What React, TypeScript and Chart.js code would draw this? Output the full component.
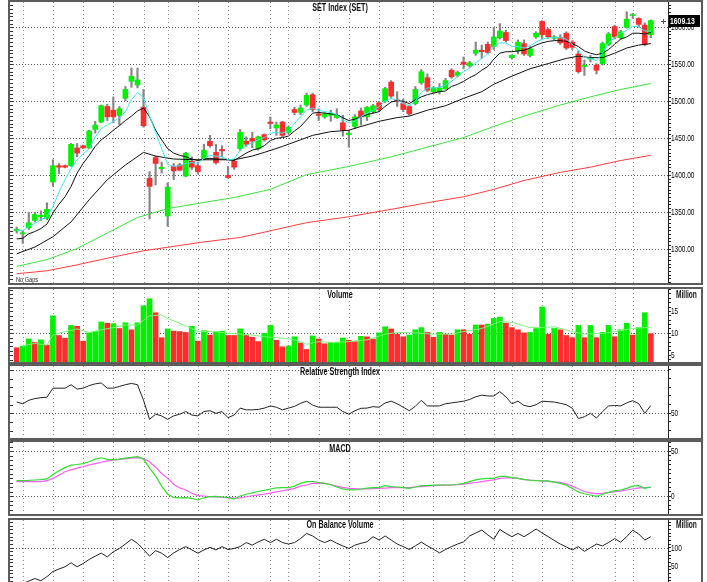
import { useEffect, useRef } from "react";
import { Chart, registerables } from "chart.js";
Chart.register(...registerables);

const FONT = '"Liberation Sans",Arial,sans-serif';

// ---------- price (OHLC) ----------
const openP = [
  1325, 1321, 1329, 1339, 1344, 1342, 1391, 1413, 1413, 1413,
  1437, 1440, 1437, 1462, 1472, 1493, 1488, 1481, 1504, 1527,
  1522, 1492, 1396, 1424, 1409, 1345, 1412, 1414, 1399, 1419,
  1413, 1422, 1446, 1431, 1435, 1400, 1419, 1436, 1446, 1450,
  1436, 1455, 1472, 1464, 1472, 1458, 1489, 1485, 1495, 1509,
  1483, 1479, 1481, 1478, 1471, 1455, 1466, 1487, 1479, 1486,
  1498, 1500, 1526, 1502, 1497, 1493, 1497, 1525, 1532, 1513,
  1513, 1517, 1542, 1535, 1553, 1548, 1565, 1569, 1577, 1574,
  1586, 1593, 1559, 1568, 1578, 1562, 1587, 1608, 1597, 1585,
  1586, 1592, 1580, 1564, 1547, 1557, 1549, 1551, 1577, 1601,
  1586, 1600, 1616, 1612, 1603, 1590,
];
const highP = [
  1330, 1325, 1350, 1350, 1352, 1363, 1421, 1416, 1414, 1443,
  1443, 1441, 1461, 1473, 1495, 1496, 1506, 1493, 1520, 1545,
  1545, 1516, 1405, 1426, 1418, 1390, 1416, 1416, 1431, 1425,
  1418, 1442, 1454, 1442, 1440, 1412, 1421, 1462, 1452, 1458,
  1453, 1456, 1479, 1472, 1473, 1467, 1492, 1495, 1511, 1511,
  1490, 1485, 1488, 1490, 1481, 1461, 1482, 1491, 1493, 1496,
  1500, 1519, 1528, 1513, 1503, 1495, 1520, 1543, 1537, 1520,
  1524, 1531, 1544, 1541, 1560, 1554, 1580, 1576, 1580, 1600,
  1605, 1596, 1563, 1583, 1583, 1574, 1594, 1609, 1599, 1589,
  1590, 1594, 1582, 1568, 1556, 1562, 1551, 1580, 1593, 1603,
  1596, 1621, 1619, 1613, 1606, 1610,
];
const lowP = [
  1322, 1308, 1327, 1337, 1339, 1340, 1385, 1402, 1410, 1412,
  1425, 1436, 1436, 1457, 1471, 1474, 1471, 1468, 1501, 1519,
  1518, 1465, 1341, 1387, 1403, 1331, 1394, 1406, 1398, 1408,
  1402, 1421, 1438, 1415, 1425, 1396, 1408, 1433, 1439, 1437,
  1434, 1446, 1463, 1454, 1452, 1456, 1482, 1482, 1493, 1486,
  1474, 1477, 1473, 1477, 1453, 1438, 1463, 1468, 1474, 1484,
  1486, 1498, 1505, 1493, 1486, 1481, 1495, 1523, 1513, 1511,
  1510, 1516, 1531, 1533, 1544, 1546, 1562, 1558, 1564, 1570,
  1584, 1580, 1557, 1564, 1562, 1560, 1585, 1584, 1585, 1583,
  1577, 1570, 1570, 1538, 1535, 1553, 1537, 1549, 1575, 1585,
  1584, 1599, 1612, 1600, 1575, 1586,
];
const closeP = [
  1327, 1322, 1336, 1347, 1346, 1354, 1413, 1411, 1411, 1442,
  1430, 1437, 1460, 1468, 1494, 1479, 1479, 1490, 1516, 1534,
  1529, 1467, 1385, 1416, 1411, 1384, 1406, 1407, 1430, 1411,
  1405, 1434, 1440, 1417, 1433, 1397, 1411, 1458, 1442, 1446,
  1452, 1448, 1470, 1468, 1454, 1465, 1485, 1491, 1508, 1489,
  1481, 1483, 1484, 1481, 1461, 1457, 1479, 1479, 1492, 1494,
  1489, 1517, 1507, 1500, 1489, 1483, 1516, 1540, 1515, 1518,
  1518, 1528, 1533, 1539, 1550, 1552, 1569, 1567, 1566, 1587,
  1595, 1582, 1562, 1580, 1564, 1571, 1592, 1590, 1587, 1587,
  1579, 1572, 1573, 1540, 1549, 1559, 1542, 1578, 1591, 1587,
  1594, 1611, 1617, 1604, 1577, 1609.13,
];

// ---------- moving averages on price ----------
const maCyan = [
  1326, 1325, 1331, 1335, 1340, 1344, 1358, 1377, 1394, 1409,
  1421, 1429, 1436, 1452, 1463, 1468, 1473, 1477, 1486, 1502,
  1512, 1505, 1480, 1458, 1436, 1415, 1412, 1413, 1416, 1417,
  1416, 1423, 1427, 1426, 1425, 1421, 1422, 1434, 1440, 1444,
  1448, 1451, 1457, 1458, 1457, 1460, 1470, 1479, 1488, 1491,
  1488, 1486, 1485, 1482, 1475, 1471, 1473, 1479, 1484, 1488,
  1493, 1500, 1504, 1502, 1497, 1494, 1500, 1512, 1518, 1518,
  1519, 1522, 1527, 1534, 1540, 1545, 1552, 1558, 1564, 1574,
  1579, 1579, 1574, 1574, 1572, 1575, 1580, 1584, 1586, 1586,
  1586, 1584, 1577, 1569, 1559, 1558, 1555, 1565, 1579, 1586,
  1592, 1596, 1601, 1601, 1595, 1595,
];
const maBlack1 = [
  1314, 1315, 1321, 1324, 1328, 1334, 1349, 1361, 1371, 1385,
  1403, 1416, 1427, 1439, 1448, 1454, 1461, 1467, 1474, 1480,
  1487, 1491, 1479, 1461, 1448, 1436, 1430, 1427, 1425, 1422,
  1420, 1422, 1423, 1422, 1422, 1421, 1420, 1425, 1430, 1434,
  1436, 1440, 1447, 1450, 1451, 1453, 1460, 1466, 1475, 1484,
  1485, 1484, 1483, 1482, 1478, 1474, 1476, 1479, 1482, 1484,
  1486, 1493, 1499, 1501, 1500, 1497, 1502, 1506, 1509, 1511,
  1513, 1514, 1520, 1523, 1527, 1532, 1536, 1542, 1547, 1557,
  1565, 1567, 1567, 1568, 1569, 1572, 1576, 1579, 1581, 1582,
  1582, 1581, 1578, 1574, 1568, 1565, 1563, 1565, 1570, 1577,
  1584, 1587, 1592, 1592, 1591, 1593,
];
// [day index, value]
const maBlack2: [number, number][] = [
  [0, 1294], [3, 1303], [6, 1317], [9, 1337], [12, 1367], [15, 1394], [18, 1414],
  [21, 1431], [23, 1426], [26, 1422], [30, 1421], [36, 1421], [39, 1426], [41, 1431],
  [44, 1439], [47, 1448], [49, 1454], [52, 1459], [55, 1461], [57, 1466], [60, 1473],
  [63, 1478], [65, 1480], [68, 1488], [71, 1494], [74, 1504], [77, 1513], [79, 1523],
  [82, 1534], [85, 1544], [88, 1551], [91, 1558], [93, 1561], [95, 1559], [97, 1559],
  [99, 1565], [101, 1572], [103, 1576], [105, 1578],
];
const maGreen: [number, number][] = [
  [0, 1277], [5, 1286], [10, 1301], [15, 1322], [20, 1343], [25, 1355], [30, 1362],
  [36, 1370], [42, 1381], [48, 1401], [55, 1412], [62, 1425], [68, 1438], [74, 1451],
  [79, 1466], [84, 1480], [90, 1495], [95, 1506], [100, 1516], [105, 1524],
];
const maRed: [number, number][] = [
  [0, 1267], [5, 1271], [10, 1279], [15, 1288], [21, 1298], [26, 1304], [31, 1310],
  [37, 1316], [42, 1325], [48, 1336], [55, 1344], [62, 1354], [68, 1363], [74, 1371],
  [79, 1381], [84, 1393], [90, 1404], [95, 1411], [100, 1420], [105, 1427],
];

// ---------- volume (millions) ----------
const volume = [
  6.7, 7.0, 8.7, 7.9, 8.5, 7.3, 14.0, 9.5, 8.9, 11.8,
  11.6, 8.2, 10.1, 10.4, 12.6, 12.3, 12.2, 11.1, 12.4, 10.8,
  12.4, 16.3, 17.9, 14.7, 9.0, 11.0, 10.5, 10.4, 10.2, 11.6,
  8.2, 10.6, 9.6, 10.4, 10.5, 9.5, 9.5, 11.0, 9.5, 9.1,
  8.1, 10.0, 11.8, 8.4, 6.9, 7.1, 9.2, 7.8, 6.3, 9.4,
  8.7, 7.6, 7.9, 7.9, 8.9, 8.4, 8.1, 9.3, 9.2, 8.7,
  10.1, 11.5, 11.0, 9.8, 9.2, 9.6, 10.8, 11.3, 10.2, 9.1,
  10.2, 9.8, 9.6, 10.8, 10.8, 9.8, 11.9, 11.9, 12.1, 13.4,
  13.7, 12.3, 11.3, 10.8, 10.1, 10.2, 11.1, 16.0, 9.8, 11.1,
  10.8, 9.5, 9.0, 11.8, 9.0, 11.8, 9.0, 10.2, 11.8, 9.2,
  10.8, 12.3, 9.6, 11.3, 14.7, 9.9,
];
const volumeUp = [
  0, 1, 1, 0, 1, 0, 1, 0, 0, 1,
  0, 0, 1, 1, 1, 0, 1, 0, 1, 0,
  1, 1, 1, 0, 0, 1, 0, 0, 0, 1,
  0, 1, 0, 1, 1, 0, 0, 1, 0, 0,
  0, 1, 1, 0, 0, 1, 1, 0, 0, 1,
  0, 0, 1, 1, 1, 0, 0, 1, 0, 0,
  1, 1, 0, 0, 0, 1, 1, 1, 0, 0,
  1, 0, 0, 1, 0, 0, 1, 0, 1, 1,
  1, 0, 0, 0, 0, 1, 1, 1, 0, 1,
  0, 0, 0, 1, 0, 1, 0, 1, 1, 0,
  1, 1, 0, 1, 1, 0,
];
const volumeMA: [number, number][] = [
  [1, 7.1], [3, 7.7], [5, 7.3], [6, 9.6], [8, 10.4], [10, 11.0], [12, 10.2], [14, 10.8],
  [16, 11.3], [18, 11.9], [20, 11.9], [22, 14.0], [24, 14.2], [25, 13.4], [27, 12.3],
  [29, 11.1], [30, 10.4], [33, 10.4], [35, 10.0], [37, 9.8], [39, 9.6], [41, 9.2],
  [44, 8.9], [46, 8.5], [48, 7.5], [50, 8.1], [52, 7.9], [55, 8.1], [58, 8.5], [61, 9.8],
  [63, 10.2], [66, 10.1], [69, 9.8], [72, 9.8], [74, 10.4], [77, 11.1], [80, 12.7],
  [82, 12.5], [85, 11.3], [87, 11.3], [89, 11.5], [92, 10.4], [94, 9.8], [97, 10.0],
  [99, 10.4], [102, 11.1], [104, 11.3], [105, 11.3],
];

// ---------- indicators ----------
const rsi = [
  63, 61, 65, 67, 68, 68.5, 79, 79, 79, 83,
  78, 79, 82, 84, 85, 79, 79, 81, 83, 84.5,
  83, 65, 43, 49, 47, 43, 47, 49, 52, 48,
  47, 52, 53, 50, 52, 45, 48, 56, 54, 54,
  54.5, 56, 58.5, 57, 54, 56, 58, 61.5, 64, 59.5,
  57, 57, 57, 57, 52, 49, 53, 55.8, 56, 57.7,
  57, 62, 64, 61, 57, 53, 58, 65, 58.5, 58.5,
  58.5, 61, 62, 63, 64, 66, 69, 71, 70, 70,
  75, 69, 61, 64, 59, 57.7, 60, 64, 63.5, 63,
  61.5, 60, 55.8, 44, 46, 50, 44.6, 52, 58.5, 59,
  58.5, 62, 64.6, 61, 50, 59,
];
const macd = [
  17, 17, 17.3, 17.8, 18.2, 19, 24, 28, 31.5, 34.4,
  35, 36, 38, 41, 42.5, 40.7, 40.5, 41, 42, 43,
  43.7, 41, 31, 22, 11, 2, -1.5, -2, -1.9, -2.6,
  -4.4, -2, -0.8, -0.5, -1.1, -1.9, -3.3, 0, 1.9, 3.5,
  5, 6.3, 7.8, 9, 9.3, 9.2, 11, 14, 16, 16,
  15, 14, 12.5, 10, 8, 6.7, 6.7, 7.8, 8.8, 9.3,
  9.3, 11.5, 10.5, 10, 9.3, 8.5, 10, 11.5, 11.5, 12,
  12.2, 12.2, 12.2, 12.8, 14, 16, 18, 19, 19.6, 19.6,
  21.9, 21.9, 20.5, 19.5, 18.5, 17.5, 17, 16.7, 16.7, 15.5,
  14, 12, 8.5, 4.5, 2.5, 1.1, -0.5, 2, 4, 5.6,
  6.7, 8.5, 11, 11.5, 8.5, 10,
];
const macdSignal = [
  16, 16, 16, 16, 16, 17, 19.6, 23, 27, 29,
  31, 32.5, 34.5, 36, 37.5, 39, 39.8, 40.6, 41.2, 42,
  42.6, 41.5, 38, 32, 25, 19.6, 13, 9, 6.7, 3,
  0.5, 0, -0.6, -1, -1.5, -1.9, -2.4, -2, -0.8, 0.3,
  1.2, 2, 3.2, 4.5, 5.8, 7, 8.5, 11, 12.2, 14,
  14, 14, 12.8, 11, 9.5, 8.5, 8.2, 7.8, 7.9, 8.2,
  8.5, 8.8, 9.2, 9.3, 9.3, 9.3, 10, 10.5, 11, 11.5,
  11.7, 12, 12.2, 12.7, 13.3, 14, 15, 16, 17, 18,
  19.6, 20, 20.4, 19.5, 18.3, 17.8, 17.2, 16.7, 16.3, 15.8,
  15.2, 13.5, 11, 8, 5, 3.5, 2.6, 3, 3.8, 4.8,
  5.5, 6.7, 7.8, 9, 9.3, 9.6,
];
const obv = [
  -5, 2, 9, 16, 10, 21, 35, 42, 48, 59,
  48, 57, 68, 77, 85, 75, 89, 98, 110, 123,
  112, 95, 77, 92, 85, 73, 86, 95, 103, 94,
  85, 94, 101, 94, 103, 95, 98, 103, 114, 107,
  116, 123, 114, 123, 114, 110, 114, 125, 139, 132,
  121, 114, 121, 112, 105, 98, 107, 112, 116, 130,
  121, 132, 121, 110, 103, 95, 105, 115, 105, 96,
  86, 95, 103, 110, 116, 132, 140, 148, 135, 123,
  150, 139, 130, 139, 130, 140, 151, 140, 130, 120,
  110, 102, 94, 103, 90, 100, 110, 105, 114, 125,
  115, 130, 148, 137, 121, 130,
];

// first trading day of each week (vertical grid)
const weekStarts = [1, 6, 11, 16, 21, 25, 30, 35, 42, 45, 50, 55, 60, 64, 69, 74, 79, 82, 87, 92, 99, 102];
const priceGrid = [1300, 1350, 1400, 1450, 1500, 1550, 1600];

// ---------- layout constants ----------
const X_MIN = -1.11;
const X_MAX = 107.84;
const AXIS_W = 33;
const CANVAS_W = 658 + AXIS_W;
const GREEN = "#00f000";
const RED = "#ff2e2e";

type Pt = [number, number];
const fromPairs = (p: Pt[]) => p.map(([x, y]) => ({ x, y }));
const fromSeries = (a: number[]) => a.map((y, x) => ({ x, y }));

function makeDeco(vLines: number[], hLines: number[], label: (v: number) => string, last?: number) {
  return {
    id: "deco",
    beforeDatasetsDraw(chart: any) {
      const { ctx, chartArea: a, scales } = chart;
      const xs = scales.x, ys = scales.y;
      ctx.save();
      ctx.lineWidth = 1;
      ctx.strokeStyle = "#8c8c8c";
      ctx.setLineDash([1, 3]);
      for (const g of vLines) {
        const px = Math.round(xs.getPixelForValue(g)) + 0.5;
        ctx.beginPath(); ctx.moveTo(px, a.top); ctx.lineTo(px, a.bottom); ctx.stroke();
      }
      ctx.strokeStyle = "#5a5a5a";
      ctx.setLineDash([1, 2]);
      for (const h of hLines) {
        const py = Math.round(ys.getPixelForValue(h)) + 0.5;
        ctx.beginPath(); ctx.moveTo(a.left, py); ctx.lineTo(a.right, py); ctx.stroke();
      }
      ctx.setLineDash([]);
      ctx.strokeStyle = "#333";
      ctx.beginPath();
      for (const t of ys.ticks) {
        const py = Math.round(ys.getPixelForValue(t.value)) + 0.5;
        if (py < a.top || py > a.bottom) continue;
        ctx.moveTo(a.left, py); ctx.lineTo(a.left + 3, py);
      }
      ctx.stroke();
      ctx.restore();
    },
    afterDraw(chart: any) {
      const { ctx, chartArea: a, scales } = chart;
      const ys = scales.y;
      ctx.save();
      // right-axis labels, drawn condensed like the original narrow font
      ctx.fillStyle = "#000";
      ctx.font = `9px ${FONT}`;
      ctx.textBaseline = "middle";
      for (const t of ys.ticks) {
        const txt = label(t.value);
        if (!txt) continue;
        const py = ys.getPixelForValue(t.value);
        ctx.save();
        ctx.translate(a.right + 3, py + 0.5);
        ctx.scale(0.72, 1);
        ctx.fillText(txt, 0, 0);
        ctx.restore();
      }
      if (last != null) {
        const py = Math.round(ys.getPixelForValue(last));
        ctx.fillStyle = "#000";
        ctx.fillRect(a.right + 1, py - 6, 31, 12);
        ctx.fillStyle = "#fff";
        ctx.font = `bold 9px ${FONT}`;
        ctx.save();
        ctx.translate(a.right + 2, py + 0.5);
        ctx.scale(0.76, 1);
        ctx.fillText(last.toFixed(2), 0, 0);
        ctx.restore();
        ctx.strokeStyle = "#555";
        ctx.lineWidth = 1;
        ctx.beginPath();
        ctx.moveTo(a.right - 7, py + 0.5); ctx.lineTo(a.right - 2, py + 0.5);
        ctx.moveTo(a.right - 4.5, py - 2); ctx.lineTo(a.right - 4.5, py + 3);
        ctx.stroke();
      }
      ctx.restore();
    },
  };
}

function yAxis(min: number, max: number, step: number) {
  return {
    position: "right",
    min,
    max,
    afterFit: (s: any) => { s.width = AXIS_W; s.paddingTop = 0; s.paddingBottom = 0; },
    afterBuildTicks: (s: any) => {
      const t: any[] = [];
      for (let k = Math.ceil(min / step); k * step <= max; k++) t.push({ value: +(k * step).toFixed(4) });
      s.ticks = t;
    },
    ticks: { display: false, autoSkip: false },
    grid: { drawOnChartArea: false, drawTicks: true, tickLength: 3, tickColor: "#222", color: "#222" },
    border: { display: true, color: "#222", width: 1 },
  };
}

const xAxis = { type: "linear", min: X_MIN, max: X_MAX, display: false, offset: false };

function baseOptions(y: any) {
  return {
    responsive: false,
    maintainAspectRatio: false,
    animation: false,
    events: [],
    layout: { padding: 0 },
    plugins: { legend: { display: false }, tooltip: { enabled: false } },
    scales: { x: xAxis, y },
  };
}

const line = (data: any[], color: string, width = 1, order = 0) => ({
  type: "line",
  data,
  borderColor: color,
  borderWidth: width,
  pointRadius: 0,
  tension: 0,
  spanGaps: true,
  order,
});

const PANELS = [
  { key: "main", top: 0, h: 281 },
  { key: "vol", top: 287, h: 73 },
  { key: "rsi", top: 364, h: 72 },
  { key: "macd", top: 440, h: 72 },
  { key: "obv", top: 518, h: 80 },
];

function buildConfigs() {
  const n = closeP.length;
  const idx = Array.from({ length: n }, (_, i) => i);
  const main = {
    type: "bar",
    data: {
      datasets: [
        {
          type: "bar",
          data: idx.map((i) => ({ x: i, y: [lowP[i], highP[i]] })),
          backgroundColor: "#868686",
          barThickness: 1.5,
          grouped: false,
          order: 5,
        },
        {
          type: "bar",
          data: idx.map((i) => ({ x: i, y: [openP[i], closeP[i]] })),
          backgroundColor: idx.map((i) => (closeP[i] >= openP[i] ? GREEN : RED)),
          borderWidth: 0,
          borderSkipped: false,
          barThickness: 5,
          minBarLength: 1,
          grouped: false,
          order: 4,
        },
        line(fromPairs(maRed), "#ff3c3c", 1, 3),
        line(fromPairs(maGreen), "#3ee03e", 1, 3),
        line(fromPairs(maBlack2), "#111", 1, 2),
        line(fromSeries(maBlack1), "#111", 1, 1),
        line(fromSeries(maCyan), "#3ee8f0", 1, 0),
      ],
    },
    options: baseOptions(yAxis(1254.5, 1634.2, 5)),
    plugins: [makeDeco(weekStarts, priceGrid, (v) => (v % 50 === 0 ? v.toFixed(2) : ""), closeP[n - 1])],
  };
  const vol = {
    type: "bar",
    data: {
      datasets: [
        {
          type: "bar",
          data: fromSeries(volume),
          backgroundColor: volumeUp.map((u) => (u ? GREEN : RED)),
          barThickness: 5,
          base: 3.43,
          grouped: false,
          order: 2,
        },
        line(fromPairs(volumeMA), "#7df57d", 1, 0),
      ],
    },
    options: baseOptions(yAxis(3.43, 20.14, 1)),
    plugins: [makeDeco(weekStarts, [10], (v) => (v === 5 || v === 10 || v === 15 ? String(v) : ""))],
  };
  const rsiC = {
    type: "line",
    data: { datasets: [line(fromSeries(rsi), "#222", 1)] },
    options: baseOptions(yAxis(21.5, 104.6, 10)),
    plugins: [makeDeco(weekStarts, [50, 100], (v) => (v === 50 ? "50" : ""))],
  };
  const macdC = {
    type: "line",
    data: {
      datasets: [
        line(fromSeries(macdSignal), "#ff5cff", 1.2, 1),
        line(fromSeries(macd), "#2ee02e", 1.2, 0),
      ],
    },
    options: baseOptions(yAxis(-20, 60, 5)),
    plugins: [makeDeco(weekStarts, [0, 50], (v) => (v === 50 || v === 0 ? String(v) : ""))],
  };
  const obvC = {
    type: "line",
    data: { datasets: [line(fromSeries(obv), "#222", 1)] },
    options: baseOptions(yAxis(-42.5, 175.5, 10)),
    plugins: [makeDeco(weekStarts, [100], (v) => (v === 50 || v === 100 ? String(v) : ""))],
  };
  return [main, vol, rsiC, macdC, obvC];
}

const titleStyle = (top: number): any => ({
  position: "absolute",
  left: 340,
  top,
  transform: "translateX(-50%) scaleX(0.72)",
  font: `bold 10px ${FONT}`,
  color: "#111",
  whiteSpace: "nowrap",
  lineHeight: "10px",
});
const rightLabel = (top: number): any => ({
  position: "absolute",
  left: 676,
  top,
  transform: "scaleX(0.66)",
  transformOrigin: "left center",
  font: `bold 10px ${FONT}`,
  color: "#111",
  whiteSpace: "nowrap",
  lineHeight: "10px",
});

export default function App() {
  const refs = useRef<(HTMLCanvasElement | null)[]>([]);
  useEffect(() => {
    const cfgs = buildConfigs();
    const charts = cfgs.map((c, i) => new Chart(refs.current[i] as HTMLCanvasElement, c as any));
    return () => charts.forEach((c) => c.destroy());
  }, []);
  return (
    <div style={{ position: "fixed", left: 0, top: 0, width: 707, height: 582, overflow: "hidden", background: "#fff" }}>
      {PANELS.map((p, i) => (
        <div
          key={p.key}
          style={{ position: "absolute", left: 8, top: p.top, width: CANVAS_W, height: p.h, border: "2px solid #5c5c5c", background: "#fff" }}
        >
          <canvas
            ref={(el) => { refs.current[i] = el; }}
            width={CANVAS_W}
            height={p.h}
            style={{ display: "block", width: CANVAS_W, height: p.h }}
          />
        </div>
      ))}
      <div style={titleStyle(3)}>SET Index (SET)</div>
      <div style={{ position: "absolute", left: 16, top: 276, font: `7px ${FONT}`, color: "#222", lineHeight: "8px", transform: "scaleX(0.8)", transformOrigin: "left center" }}>No Gaps</div>
      <div style={titleStyle(290)}>Volume</div>
      <div style={rightLabel(290)}>Million</div>
      <div style={titleStyle(367)}>Relative Strength Index</div>
      <div style={titleStyle(444)}>MACD</div>
      <div style={titleStyle(520)}>On Balance Volume</div>
      <div style={rightLabel(520)}>Million</div>
    </div>
  );
}
